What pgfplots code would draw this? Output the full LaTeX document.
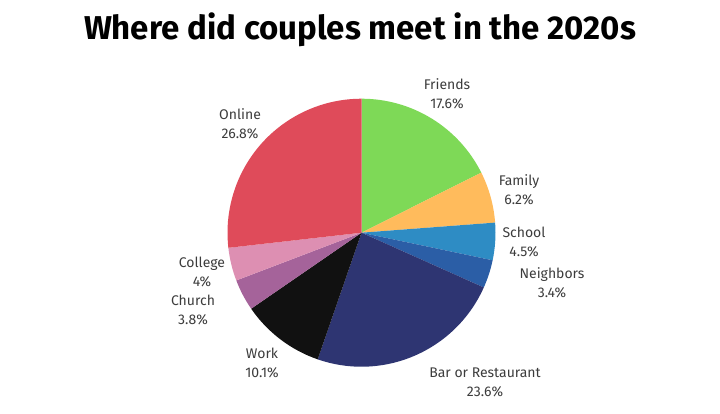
\documentclass[border=0pt]{standalone}
\usepackage{fontspec}
\setmainfont{Fira Sans}
\usepackage{pgfplots}
\usepackage{pgfplotstable}
\pgfplotsset{compat=1.18}

\definecolor{cFriends}{HTML}{7ED957}
\definecolor{cFamily}{HTML}{FFBB5C}
\definecolor{cSchool}{HTML}{2E8CC4}
\definecolor{cNeighbors}{HTML}{2B5EA6}
\definecolor{cBar}{HTML}{2E3572}
\definecolor{cWork}{HTML}{111111}
\definecolor{cChurch}{HTML}{A5639A}
\definecolor{cCollege}{HTML}{DD8FB2}
\definecolor{cOnline}{HTML}{DF4B5A}
\definecolor{labgray}{HTML}{3C3C3C}

% share of couples, clockwise from 12 o'clock; lx/ly = label centre (px)
\pgfplotstableread[col sep=comma]{
name,value,col,lx,ly
Friends,17.6,cFriends,447,94
Family,6.2,cFamily,519,190
School,4.5,cSchool,524,242
Neighbors,3.4,cNeighbors,552,283
Bar or Restaurant,23.6,cBar,485,382
Work,10.1,cWork,262,363
Church,3.8,cChurch,193,310
College,4,cCollege,202,272
Online,26.8,cOnline,240,124
}\pie

\begin{document}
\begin{tikzpicture}[
  lab/.style={align=center, text=labgray,
    font=\fontsize{14}{19}\selectfont},
]
\useasboundingbox (0,0) rectangle (720pt,413pt);
\begin{axis}[
  at={(0,0)}, anchor=south west,
  scale only axis, width=720pt, height=413pt,
  xmin=0, xmax=720, ymin=0, ymax=413,
  hide axis, clip=false,
]
\pgfplotstablegetrowsof{\pie}
\pgfmathtruncatemacro\N{\pgfplotsretval-1}
\def\angA{90}
\pgfplotsforeachungrouped \i in {0,...,\N}{
  \pgfplotstablegetelem{\i}{value}\of\pie \let\v\pgfplotsretval
  \pgfplotstablegetelem{\i}{col}\of\pie \let\c\pgfplotsretval
  \pgfplotstablegetelem{\i}{name}\of\pie \let\nm\pgfplotsretval
  \pgfplotstablegetelem{\i}{lx}\of\pie \let\lx\pgfplotsretval
  \pgfplotstablegetelem{\i}{ly}\of\pie \let\ly\pgfplotsretval
  \pgfmathsetmacro\angB{\angA-3.6*\v}
  \pgfmathsetmacro\lyy{413-\ly}
  \edef\temp{%
    \noexpand\fill[\c] (axis cs:361.5,180.3) -- ++(\angA:134pt)
      arc[start angle=\angA, end angle=\angB, radius=134pt] -- cycle;
    \noexpand\node[lab] at (axis cs:\lx,\lyy) {\nm\noexpand\\\v\noexpand\%};
  }
  \temp
  \let\angA\angB
}
\node[font=\bfseries\fontsize{33}{36}\selectfont] at (axis cs:360,383) {Where did couples meet in the 2020s};
\end{axis}
\end{tikzpicture}
\end{document}
